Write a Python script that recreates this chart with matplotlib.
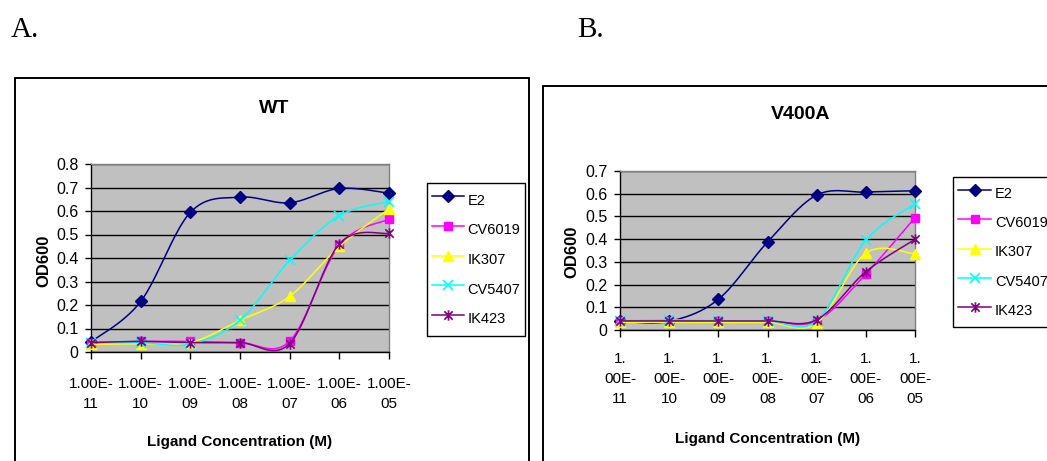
import numpy as np
import matplotlib
matplotlib.use("Agg")
import matplotlib.pyplot as plt
from matplotlib.path import Path
from matplotlib.patches import Rectangle

plt.rcParams['font.family'] = ['Liberation Sans', 'DejaVu Sans']

# ---------------- data ----------------
series_names = ["E2", "CV6019", "IK307", "CV5407", "IK423"]

ticks_a = ["1.00E-\n11", "1.00E-\n10", "1.00E-\n09", "1.00E-\n08",
           "1.00E-\n07", "1.00E-\n06", "1.00E-\n05"]
ticks_b = ["1.\n00E-\n11", "1.\n00E-\n10", "1.\n00E-\n09", "1.\n00E-\n08",
           "1.\n00E-\n07", "1.\n00E-\n06", "1.\n00E-\n05"]

wt_e2     = [0.043, 0.215, 0.594, 0.659, 0.635, 0.696, 0.676]
wt_cv6019 = [0.040, 0.045, 0.045, 0.040, 0.046, 0.455, 0.565]
wt_ik307  = [0.032, 0.036, 0.040, 0.135, 0.237, 0.449, 0.609]
wt_cv5407 = [0.040, 0.040, 0.034, 0.135, 0.390, 0.580, 0.640]
wt_ik423  = [0.040, 0.045, 0.040, 0.040, 0.036, 0.460, 0.505]

v4_e2     = [0.038, 0.038, 0.135, 0.387, 0.594, 0.607, 0.613]
v4_cv6019 = [0.040, 0.040, 0.040, 0.040, 0.040, 0.247, 0.495]
v4_ik307  = [0.034, 0.034, 0.034, 0.034, 0.030, 0.338, 0.335]
v4_cv5407 = [0.040, 0.045, 0.040, 0.040, 0.040, 0.395, 0.555]
v4_ik423  = [0.040, 0.040, 0.040, 0.040, 0.045, 0.257, 0.399]

yticks_a = [0, 0.1, 0.2, 0.3, 0.4, 0.5, 0.6, 0.7, 0.8]
yticks_b = [0, 0.1, 0.2, 0.3, 0.4, 0.5, 0.6, 0.7]
ytick_labels_a = ["0", "0.1", "0.2", "0.3", "0.4", "0.5", "0.6", "0.7", "0.8"]
ytick_labels_b = ["0", "0.1", "0.2", "0.3", "0.4", "0.5", "0.6", "0.7"]

# ---------------- style ----------------
W, H = 1047, 461
star = Path([(-1, -1), (1, 1), (-1, 1), (1, -1), (0, -1.25), (0, 1.25)],
            [Path.MOVETO, Path.LINETO, Path.MOVETO, Path.LINETO, Path.MOVETO, Path.LINETO])
styles = [
    dict(color="#000080", marker="D", ms=5.8, mfc="#000080", mec="#000080"),
    dict(color="#FF00FF", marker="s", ms=5.8, mfc="#FF00FF", mec="#FF00FF"),
    dict(color="#FFFF00", marker="^", ms=7.5, mfc="#FFFF00", mec="#FFFF00"),
    dict(color="#00FFFF", marker="x", ms=7, mew=1.2, mfc="none", mec="#00FFFF"),
    dict(color="#800080", marker=star, ms=7.5, mew=1.2, mfc="none", mec="#800080"),
]

NSEG = 24


def smooth(y):
    """Excel-like smoothed line (Catmull-Rom Bezier) through the data points."""
    pts = np.column_stack([np.arange(len(y), dtype=float), np.asarray(y, float)])
    P = np.vstack([pts[0], pts, pts[-1]])
    t = np.linspace(0, 1, NSEG, endpoint=False)[:, None]
    out = []
    for i in range(len(pts) - 1):
        p0, p1, p2, p3 = P[i], P[i + 1], P[i + 2], P[i + 3]
        c1 = p1 + (p2 - p0) / 6.0
        c2 = p2 - (p3 - p1) / 6.0
        out.append((1 - t) ** 3 * p1 + 3 * (1 - t) ** 2 * t * c1
                   + 3 * (1 - t) * t ** 2 * c2 + t ** 3 * p2)
    out.append(pts[-1:])
    return np.vstack(out)


def ax_rect(left, top, right, bottom):
    return [left / W, 1 - bottom / H, (right - left) / W, (bottom - top) / H]


fig = plt.figure(figsize=(W / 100, H / 100), dpi=100)
fig.patch.set_facecolor("white")

# outer chart frames (partly cut off by the page edge)
fig.add_artist(Rectangle((15 / W, -0.05), (529 - 15) / W, (1 - 78 / H) + 0.05,
                         transform=fig.transFigure, fill=False, ec="black", lw=1.4))
fig.add_artist(Rectangle((543 / W, -0.05), 0.8, (1 - 86 / H) + 0.05,
                         transform=fig.transFigure, fill=False, ec="black", lw=1.4))

fig.text(11 / W, 1 - 37 / H, "A.", family="Liberation Serif", fontsize=21,
         ha="left", va="baseline")
fig.text(577 / W, 1 - 37 / H, "B.", family="Liberation Serif", fontsize=21,
         ha="left", va="baseline")


def make_chart(rect, data, yticks, ylabels, xt, title, title_xy, ylab_xy, xlab_xy,
               leg_xy, xpad, hheight, lspace, hlen):
    ax = fig.add_axes(rect)
    ax.set_facecolor("#C0C0C0")
    handles = []
    for vals, st, name in zip(data, styles, series_names):
        c = smooth(vals)
        h, = ax.plot(c[:, 0], c[:, 1], lw=1.1, markevery=NSEG, label=name,
                     clip_on=False, zorder=3, **st)
        handles.append(h)
    ax.set_xlim(0, len(xt) - 1)
    ax.set_ylim(yticks[0], yticks[-1])
    ax.set_yticks(yticks)
    ax.set_yticklabels(ylabels)
    ax.set_xticks(range(len(xt)))
    ax.set_xticklabels(xt, linespacing=1.55)
    ax.yaxis.grid(True, color="black", lw=1.0)
    ax.set_axisbelow(True)
    ax.tick_params(axis="y", direction="out", length=4, width=1, pad=5, labelsize=11.5)
    ax.tick_params(axis="x", direction="out", length=5, width=1, pad=xpad, labelsize=11)
    for s in ("left", "bottom"):
        ax.spines[s].set_color("black")
        ax.spines[s].set_linewidth(1.0)
    for s in ("top", "right"):
        ax.spines[s].set_color("#808080")
        ax.spines[s].set_linewidth(1.0)
    fig.text(title_xy[0] / W, 1 - title_xy[1] / H, title, fontsize=14,
             fontweight="bold", ha="center", va="baseline")
    fig.text(ylab_xy[0] / W, 1 - ylab_xy[1] / H, "OD600", fontsize=12,
             fontweight="bold", rotation=90, ha="center", va="center")
    fig.text(xlab_xy[0] / W, 1 - xlab_xy[1] / H, "Ligand Concentration (M)",
             fontsize=11, fontweight="bold", ha="center", va="baseline")
    leg = fig.legend(handles, series_names, loc="upper left",
                     bbox_to_anchor=(leg_xy[0] / W, 1 - leg_xy[1] / H),
                     borderaxespad=0, frameon=True, fancybox=False, framealpha=1,
                     edgecolor="black", fontsize=10.5, handlelength=hlen,
                     handleheight=hheight, handletextpad=0.25,
                     labelspacing=lspace, borderpad=0.33, numpoints=1)
    leg.get_frame().set_linewidth(1.0)
    return ax


make_chart(ax_rect(91, 164, 389, 352),
           [wt_e2, wt_cv6019, wt_ik307, wt_cv5407, wt_ik423],
           yticks_a, ytick_labels_a, ticks_a, "WT", (274, 113), (44, 261), (240, 446),
           (427, 183), 13, 2.2, 0.36, 2.2)
make_chart(ax_rect(620, 171, 915, 330),
           [v4_e2, v4_cv6019, v4_ik307, v4_cv5407, v4_ik423],
           yticks_b, ytick_labels_b, ticks_b, "V400A", (801, 119), (572, 252), (768, 443),
           (953, 177), 11, 2.0, 0.47, 2.3)

fig.savefig("out.png", dpi=100)
